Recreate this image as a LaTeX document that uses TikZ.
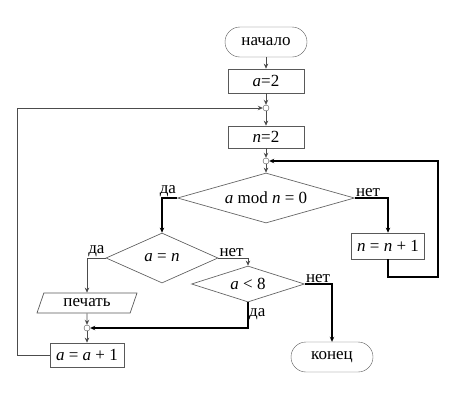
\documentclass[tikz,border=0pt]{standalone}
\usepackage{fontspec}
\setmainfont{Liberation Serif}
\usetikzlibrary{shapes.geometric,arrows.meta}

\begin{document}
\begin{tikzpicture}[x=1pt,y=-1pt,
    font=\fontsize{17}{19}\selectfont,
    line/.style={draw=black!70, line width=0.8pt},
    bold/.style={draw=black, line width=1.5pt},
    arr/.style={-{Stealth[length=5pt,width=4.5pt]}},
    term/.style={draw=black!65, rounded corners=15pt, minimum width=82pt, minimum height=30pt, inner sep=0pt},
    proc/.style={draw=black!65, line width=0.7pt, minimum width=76pt, minimum height=24pt, inner sep=0pt},
    cond/.style={diamond, draw=black!60, line width=0.7pt, inner sep=0pt},
    io/.style={trapezium, trapezium left angle=50, trapezium right angle=130, trapezium stretches body,
        draw=black!65, line width=0.7pt, minimum width=100pt, minimum height=20pt, inner sep=0pt},
    junc/.style={circle, draw=black!70, fill=white, inner sep=0pt, minimum size=6pt},
    lbl/.style={inner sep=1pt}]

    \useasboundingbox (0,0) rectangle (458,400);

    % Main column
    \node[term] (start) at (266,42) {начало};
    \node[proc] (seta) at (266,81) {\textit{a}=2};
    \node[junc] (j1) at (266,108) {};
    \node[proc, minimum height=22pt] (setn) at (266,137) {\textit{n}=2};
    \node[junc] (j2) at (266,161) {};
    \node[cond, aspect=3.54, minimum width=177pt, minimum height=50pt] (cond1) at (266,198) {\textit{a} mod \textit{n} = 0};

    % Right branch: next divisor
    \node[proc, minimum width=73pt, minimum height=26pt] (incn) at (388,246) {\textit{n} = \textit{n} + 1};
    \coordinate (back) at (438,277);

    % Left branch
    \node[cond, aspect=2.24, minimum width=112pt, minimum height=50pt] (cond2) at (162,258) {\textit{a} = \textit{n}};
    \node[cond, aspect=3.14, minimum width=113pt, minimum height=36pt] (cond3) at (248,284) {\textit{a} < 8};
    \node[io] (print) at (87,303) {печать};
    \node[junc] (j3) at (87,328) {};
    \node[proc, minimum width=74pt] (inca) at (87,355) {\textit{a} = \textit{a} + 1};
    \node[term] (stop) at (332,357) {конец};
    \coordinate (left) at (17,355);

    % Connectors
    \draw[line,arr] (start) -- (seta);
    \draw[line,arr] (seta) -- (j1);
    \draw[line,arr] (j1) -- (setn);
    \draw[line,arr] (setn) -- (j2);
    \draw[line,arr] (j2) -- (cond1);
    \draw[bold,arr] (cond1.west) -| (cond2.north);
    \draw[bold,arr] (cond1.east) -| (incn.north);
    \draw[bold,arr] (incn.south) |- (back) |- (j2);
    \draw[line,arr] (cond2.west) -| (print.north);
    \draw[line,arr] (cond2.east) -| (cond3.north);
    \draw[bold,arr] (cond3.east) -| (stop.north);
    \draw[bold,arr] (cond3.south) |- (j3);
    \draw[line,arr] (print) -- (j3);
    \draw[line,arr] (j3) -- (inca);
    \draw[line,arr] (inca.west) -- (left) |- (j1);

    % Labels
    \node[lbl, anchor=south east] at (cond1.west) {да};
    \node[lbl, anchor=south west] at (cond1.east) {нет};
    \node[lbl, anchor=south east] at (cond2.west) {да};
    \node[lbl, anchor=south west] at (cond2.east) {нет};
    \node[lbl, anchor=south west] at (cond3.east) {нет};
    \node[lbl, anchor=north west] at ([yshift=-5pt]cond3.south) {да};
\end{tikzpicture}
\end{document}
